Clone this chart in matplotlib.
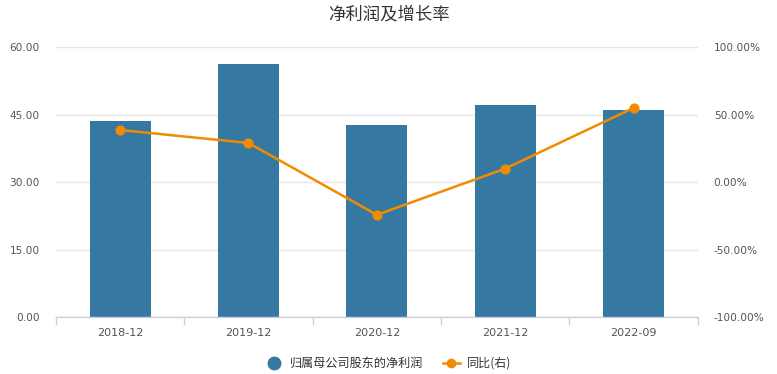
import matplotlib
matplotlib.use("Agg")
import matplotlib.pyplot as plt
from matplotlib.lines import Line2D
import numpy as np

plt.rcParams['font.family'] = ['Noto Sans CJK SC', 'DejaVu Sans']

categories = ["2018-12", "2019-12", "2020-12", "2021-12", "2022-09"]
net_profit = [43.6, 56.3, 42.7, 47.1, 46.0]
yoy_pct = [38.6, 29.0, -24.2, 10.0, 55.0]
left_ticks = [0, 15, 30, 45, 60]
right_ticks = [-100, -50, 0, 50, 100]

bar_color = "#3579a3"
line_color = "#f08c00"
tick_color = "#555555"

fig = plt.figure(figsize=(7.77, 3.74), dpi=100)
ax = fig.add_axes([0.072, 0.152, 0.826, 0.722])
x = np.arange(len(categories))
ax.bar(x, net_profit, width=0.475, color=bar_color, zorder=2)
ax.set_xlim(-0.5, len(categories) - 0.5)
ax.set_ylim(0, 60)
ax.set_yticks(left_ticks)
ax.set_yticklabels([f"{v:.2f}" for v in left_ticks], family='DejaVu Sans')
ax.grid(axis='y', color='#e6e6e6', linewidth=1, zorder=0)
ax.set_axisbelow(True)
for s in ['top', 'left', 'right']:
    ax.spines[s].set_visible(False)
ax.spines['bottom'].set_color('#c8d0e0')
ax.spines['bottom'].set_linewidth(1)
ax.set_xticks(x)
ax.set_xticklabels(categories, family='DejaVu Sans')
ax.set_xticks(np.arange(-0.5, len(categories), 1.0), minor=True)
ax.tick_params(axis='x', which='major', length=0, pad=8, labelsize=8, labelcolor=tick_color)
ax.tick_params(axis='x', which='minor', length=6, color='#c8d0e0', width=1)
ax.tick_params(axis='y', length=0, pad=11.5, labelsize=7.6, labelcolor=tick_color)

ax2 = ax.twinx()
ax2.plot(x, yoy_pct, color=line_color, linewidth=1.8, marker='o', markersize=6.3, zorder=3)
ax2.set_ylim(-100, 100)
ax2.set_yticks(right_ticks)
ax2.set_yticklabels([f"{v:.2f}%" for v in right_ticks], family='DejaVu Sans')
for s in ['top', 'left', 'right', 'bottom']:
    ax2.spines[s].set_visible(False)
ax2.tick_params(axis='y', length=0, pad=11.5, labelsize=7.6, labelcolor=tick_color)

fig.text(0.5, 0.962, "净利润及增长率", ha='center', va='center', fontsize=12.5, color='#333333')

handles = [
    Line2D([], [], linestyle='none', marker='o', markersize=9, color=bar_color),
    Line2D([], [], color=line_color, linewidth=1.8, marker='o', markersize=6),
]
fig.legend(handles, ["归属母公司股东的净利润", "同比(右)"], loc='center', bbox_to_anchor=(0.5, 0.028),
           ncol=2, frameon=False, fontsize=8.7, handlelength=1.4, columnspacing=1.6,
           labelcolor='#333333', handletextpad=0.6)

fig.savefig("out.png", dpi=100)
